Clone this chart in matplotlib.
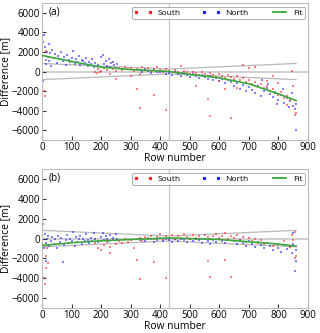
import matplotlib
matplotlib.use("Agg")
import matplotlib.pyplot as plt
from matplotlib.lines import Line2D

plt.rcParams['font.family'] = ['Open Sans', 'DejaVu Sans']

# ---------------- Panel (a) data ----------------
a_north_x = [4, 5, 8, 10, 12, 15, 18, 20, 22, 25, 28, 30, 35, 40, 45, 50, 55, 60, 65, 70, 75, 80,
             85, 90, 95, 100, 105, 110, 115, 120, 125, 130, 135, 140, 145, 150, 155, 160, 165, 170,
             175, 180, 190, 200, 205, 210, 215, 220, 225, 230, 235, 240, 245, 250, 255,
             330, 340, 350, 360, 370, 380, 390, 400, 410, 420, 430, 440, 450, 460, 470, 480, 490,
             500, 510, 520, 530, 540, 550, 560, 570, 580, 590, 600,
             610, 620, 630, 640, 650, 660, 670, 680, 690, 700, 710, 720, 730, 740, 750, 760, 770,
             780, 790, 800, 810, 820, 830, 840, 850, 855, 858, 860, 845, 835, 815, 795, 765, 745]
a_north_y = [-1000, 3000, 3700, 2500, 1200, 800, 2000, 1500, 2800, 1100, 1900, 600, 2200, 1400, 1800,
             900, 1600, 1300, 2000, 1100, 1500, 700, 1700, 1200, 1000, 1400, 2100, 800, 1300, 1000,
             1600, 700, 1200, 1100, 900, 1400, 600, 1000, 800, 1300, 500, 900, 700, 1500, 1700, 800,
             1100, 600, 1300, 500, 900, 1000, 700, 400, 800,
             200, -100, 300, 100, -200, 200, 0, -100, 100, -300, -200, -400, -100, -300, -500, -200,
             -400, -600, -300, -500, -700, -400, -600, -800, -500, -900, -700, -1000,
             -800, -1200, -900, -1100, -1500, -1200, -1800, -1400, -2000, -1600, -1900, -2200, -1500,
             -2500, -2000, -1700, -2300, -2600, -2100, -2900, -2400, -3200, -2700, -3000, -3500,
             -3800, -6000, -3300, -2200, -3600, -1800, -3300, -1300, -900]

a_south_x = [6, 9, 12, 25, 180, 185, 190, 195, 200, 210, 220, 230, 240, 250, 260, 270, 280, 290,
             300, 310, 320, 330, 340, 350, 360, 370, 380, 390, 400, 410, 420, 430, 440, 450, 460,
             470, 480, 490, 500, 510, 520, 530, 540, 550, 560, 570, 580, 590, 600, 610, 620, 630,
             640, 650, 660, 670, 680, 690, 700, 710, 720, 730, 740, 750, 760, 770, 780, 790, 800,
             810, 820, 830, 840, 850, 855, 860, 845,
             250, 300, 320, 330, 380, 420, 470, 520, 560, 570, 600, 620, 640, 660, 690, 700, 720,
             760, 780, 800, 830, 680]
a_south_y = [-2000, -2500, 2100, 1500, 0, -200, 300, -100, 100, 400, 200, -300, 300, 100, 400, 200,
             500, 300, 400, 100, 300, -300, 500, 200, 400, 100, 300, 500, 200, 0, 300, 100, -100,
             200, 0, -200, 100, -100, -300, 0, -200, -400, -100, -300, -500, -200, -400, -600, -300,
             -500, -700, -400, -600, -800, -500, -900, -700, -1100, -900, -1300, -1100, -1500,
             -1300, -1700, -1500, -2000, -1800, -2200, -2400, -2100, -2700, -2500, -2900, -1500,
             -4400, -4200, 100,
             -800, -500, -1800, -3700, -2400, -3900, 600, -1500, -2800, -4500, -1000, -1800, -4800,
             -1700, -1200, 400, 500, -1000, -500, -1200, -3400, 700]

a_fit_x = [0, 100, 200, 300, 430, 500, 600, 700, 800, 860]
a_fit_y = [1640, 1030, 440, 200, 0, -300, -650, -1260, -2290, -2970]

# ---------------- Panel (b) data ----------------
b_north_x = [5, 8, 10, 12, 15, 18, 20, 25, 30, 35, 40, 45, 50, 55, 60, 65, 70, 75, 80, 85, 90, 95,
             100, 105, 110, 115, 120, 125, 130, 135, 140, 145, 150, 155, 160, 165, 170, 175, 180,
             190, 200, 205, 210, 215, 220, 225, 230, 240, 250, 255,
             330, 340, 350, 360, 370, 380, 390, 400, 410, 420, 430, 440, 450, 460, 470, 480, 490,
             500, 510, 520, 530, 540, 550, 560, 570, 580, 590, 600, 610, 620,
             650, 660, 670, 680, 690, 700, 710, 720, 730, 740, 750, 760, 770, 780, 790, 800, 810,
             820, 830, 840, 845, 850, 855, 858, 860, 850]
b_north_y = [1500, -1000, 500, -2300, -500, 0, 300, -800, -300, 200, -600, -100, -1000, 300, -400,
             100, -2400, -700, -200, 400, -500, 0, -300, 700, -800, 200, -400, -100, 300, -600, 0,
             -300, 500, -200, -500, 100, -300, 600, -100, -400, 200, 600, -200, 300, 0, -300, 400,
             100, 500, -100,
             -200, 0, -300, 100, -100, -400, -200, 100, -300, 0, -200, -400, -100, -300, 0, -200,
             -400, -100, -300, 0, -200, -500, -100, -300, -600, -200, -400, -100, -300, -500,
             -300, -600, -200, -500, -800, -300, -600, -900, -400, -700, -1000, -500, -800, -1200,
             -600, -1000, -1400, -700, -1100, -800, -1500, -600, -3300, -2300, -1200, 600]

b_south_x = [8, 10, 12, 15, 18, 20, 180, 190, 200, 210, 220, 230, 240, 250, 260, 270, 280, 290, 300,
             310, 320, 330, 340, 350, 360, 370, 380, 390, 400, 410, 420, 430, 440, 450, 460, 470,
             480, 490, 500, 510, 520, 530, 540, 550, 560, 570, 580, 590, 600, 610, 620, 630, 640,
             650, 660, 670, 680, 690, 700, 710, 720, 730, 740, 750, 780, 800, 820, 840, 850, 855,
             860, 855, 845,
             320, 330, 380, 420, 560, 570, 620, 640, 230, 200]
b_south_y = [-4000, -4600, -3000, -1800, -1000, -2500, -500, -1000, -300, -700, -400, -900, -200,
             -600, -300, -500, -100, -400, -200, -1000, -100, 100, -300, 200, 0, 300, -100, 200, 500,
             0, 300, 100, 400, -100, 300, 100, 500, 200, 0, 400, 100, 300, -100, 400, 200, 0, 300,
             500, 100, 300, 600, 0, 300, 100, 400, -200, 200, -400, 100, -300, 0, -500, -200, -600,
             -800, -700, -300, -900, -200, -2000, -1800, 700, 400,
             -2200, -4100, -2400, -4000, -2300, -3900, -2200, -3900, -1500, -1200]

b_fit_x = [0, 100, 200, 300, 430, 500, 600, 700, 800, 860]
b_fit_y = [-700, -430, -230, -100, 50, 0, -100, -330, -560, -770]

# Gray envelope lines (same in both panels)
env_x = [0, 430, 860]
env_upper = [820, 250, 820]
env_lower = [-830, -250, -830]
divider_x = 430

xticks = [0, 100, 200, 300, 400, 500, 600, 700, 800, 900]
yticks = [-6000, -4000, -2000, 0, 2000, 4000, 6000]

W, H = 320, 333
fig = plt.figure(figsize=(W / 100, H / 100), dpi=100)

RED = "#ff1a1a"
BLUE = "#1a1aff"
GREEN = "#3aa83a"
GRAY = "#b8b8b8"

panels = [
    ("(a)", a_north_x, a_north_y, a_south_x, a_south_y, a_fit_x, a_fit_y, [42, 3, 308, 140]),
    ("(b)", b_north_x, b_north_y, b_south_x, b_south_y, b_fit_x, b_fit_y, [42, 169, 308, 308]),
]

for label, nx, ny, sx, sy, fx, fy, (l, t, r, b) in panels:
    ax = fig.add_axes([l / W, 1 - b / H, (r - l) / W, (b - t) / H])
    ax.axhline(0, color="#d0d0d0", lw=1.4, zorder=1)
    ax.axvline(divider_x, color="#c8c8c8", lw=0.9, zorder=1)
    ax.plot(env_x, env_upper, color=GRAY, lw=0.9, zorder=1)
    ax.plot(env_x, env_lower, color=GRAY, lw=0.9, zorder=1)
    ax.scatter(nx, ny, s=3.2, marker="s", color=BLUE, alpha=0.55, lw=0, zorder=2)
    ax.scatter(sx, sy, s=3.2, marker="s", color=RED, alpha=0.55, lw=0, zorder=3)
    ax.plot(fx, fy, color=GREEN, lw=1.2, zorder=4)
    ax.set_xlim(0, 900)
    ax.set_ylim(-7000, 7000)
    ax.set_xticks(xticks)
    ax.set_yticks(yticks)
    ax.tick_params(direction="in", length=3, width=0.8, labelsize=7, pad=1.5,
                   color="#333333")
    for sp in ax.spines.values():
        sp.set_color("#bbbbbb")
        sp.set_linewidth(0.8)
    ax.set_xlabel("Row number", fontsize=7.4, labelpad=0)
    ax.set_ylabel("Difference [m]", fontsize=7.4, labelpad=0.5)
    ax.text(0.025, 0.975, label, transform=ax.transAxes, ha="left", va="top", fontsize=7.2)
    handles = [
        Line2D([], [], ls="none", marker="s", ms=1.3, color=RED),
        Line2D([], [], ls="none", marker="s", ms=1.3, color=BLUE),
        Line2D([], [], color=GREEN, lw=1.3),
    ]
    leg = ax.legend(handles, ["South", "North", "Fit"], ncol=3, numpoints=2,
                    loc="upper right", bbox_to_anchor=(0.995, 0.985), fontsize=6,
                    frameon=True, fancybox=True, handlelength=2.2, handletextpad=0.6,
                    columnspacing=2.6, borderpad=0.25, borderaxespad=0.2)
    leg.get_frame().set_edgecolor("#888888")
    leg.get_frame().set_linewidth(0.6)

fig.savefig("out.png", dpi=100)
